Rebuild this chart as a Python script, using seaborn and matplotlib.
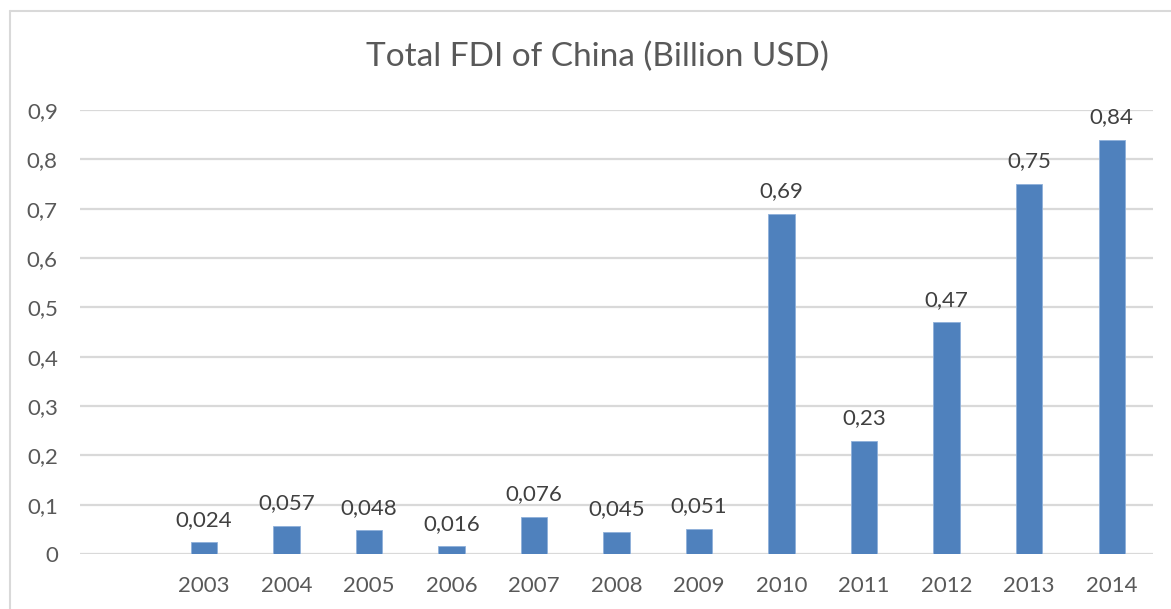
import matplotlib
matplotlib.use("Agg")
import matplotlib.pyplot as plt
import seaborn as sns
from matplotlib.lines import Line2D

years = ["2003", "2004", "2005", "2006", "2007", "2008", "2009",
         "2010", "2011", "2012", "2013", "2014"]
fdi = [0.024, 0.057, 0.048, 0.016, 0.076, 0.045, 0.051,
       0.69, 0.23, 0.47, 0.75, 0.84]
ytick_values = [0, 0.1, 0.2, 0.3, 0.4, 0.5, 0.6, 0.7, 0.8, 0.9]
title = "Total FDI of China (Billion USD)"

sns.set_theme(style="white")
plt.rcParams["font.family"] = ["Lato", "DejaVu Sans"]

text_color = "#595959"
grid_color = "#d9d9d9"
bar_color = "#4f81bd"

fig = plt.figure(figsize=(11.71, 6.09), dpi=100)
ax = fig.add_axes([80 / 1171, 1 - 554 / 609, (1153 - 80) / 1171, (554 - 110) / 609])

sns.barplot(x=years, y=fdi, color=bar_color, saturation=1, width=0.32, ax=ax,
            edgecolor="#8fb0da", linewidth=0.6, zorder=3)

ax.set_xlim(-1.5, len(years) - 0.5)
ax.set_ylim(0, 0.9)
ax.set_yticks(ytick_values)
ax.set_yticklabels([("%g" % v).replace(".", ",") for v in ytick_values])
ax.yaxis.grid(True, color=grid_color, linewidth=1.6, zorder=0)
ax.set_axisbelow(True)
for side in ["left", "right", "top", "bottom"]:
    ax.spines[side].set_visible(False)
ax.tick_params(axis="y", length=0, pad=16, labelsize=16, labelcolor=text_color)
ax.tick_params(axis="x", length=0, pad=16, labelsize=16, labelcolor=text_color)
ax.set_xlabel("")
ax.set_ylabel("")

for i, v in enumerate(fdi):
    ax.annotate(("%g" % v).replace(".", ","), (i, v), xytext=(0, 9),
                textcoords="offset points", ha="center", va="bottom",
                fontsize=16, color="#404040")

fig.text(597 / 1171, 1 - 57 / 609, title, ha="center", va="center",
         fontsize=24, color=text_color)

# chart area border (left and top edges)
fig.add_artist(Line2D([10 / 1171, 10 / 1171], [0, 1 - 11 / 609],
                      transform=fig.transFigure, color=grid_color, linewidth=1.5))
fig.add_artist(Line2D([10 / 1171, 1], [1 - 11 / 609, 1 - 11 / 609],
                      transform=fig.transFigure, color=grid_color, linewidth=1.5))

fig.savefig("out.png", dpi=100)
